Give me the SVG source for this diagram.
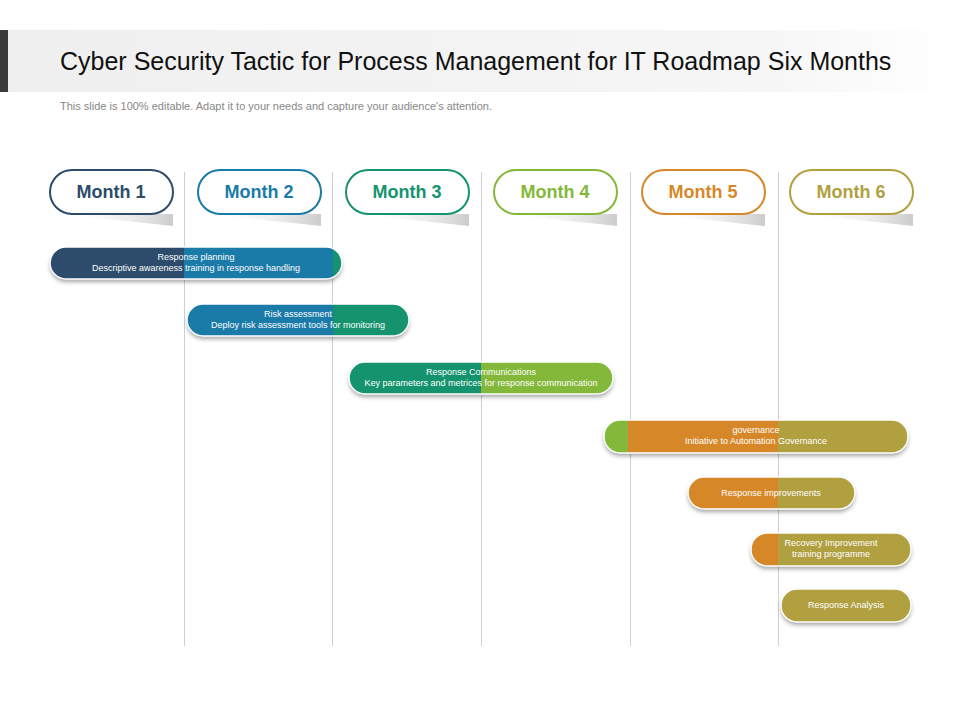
<svg xmlns="http://www.w3.org/2000/svg" width="960" height="720" viewBox="0 0 960 720">
<defs>
<linearGradient id="hg" x1="0" x2="1"><stop offset="0" stop-color="#efefef"/><stop offset="0.8" stop-color="#f6f6f6"/><stop offset="1" stop-color="#ffffff"/></linearGradient>
<linearGradient id="sh" x1="0" x2="1"><stop offset="0" stop-color="#fff" stop-opacity="0"/><stop offset="1" stop-color="#ccc"/></linearGradient>
<filter id="ds" x="-10%" y="-30%" width="120%" height="170%"><feDropShadow dx="0" dy="3" stdDeviation="2" flood-color="#000" flood-opacity="0.35"/></filter>
<clipPath id="c1"><rect x="50" y="247" width="292" height="32" rx="16"/></clipPath>
<clipPath id="c2"><rect x="187" y="304" width="222" height="32" rx="16"/></clipPath>
<clipPath id="c3"><rect x="349" y="362" width="264" height="32" rx="16"/></clipPath>
<clipPath id="c4"><rect x="604" y="420" width="304" height="33" rx="16"/></clipPath>
<clipPath id="c5"><rect x="688" y="477" width="167" height="32" rx="16"/></clipPath>
<clipPath id="c6"><rect x="751" y="533" width="160" height="33" rx="16"/></clipPath>
<clipPath id="c7"><rect x="781" y="589" width="130" height="33" rx="16"/></clipPath>
</defs>
<style>
.pill{fill:#fff;stroke-width:2}
.mt{font-family:"Liberation Sans",Arial,sans-serif;font-size:18px;font-weight:bold;text-anchor:middle}
.bt{font-family:"Liberation Sans",Arial,sans-serif;font-size:9px;fill:#fff;text-anchor:middle}
.vl{stroke:#d0d0d0;stroke-width:1}
.bo{fill:none;stroke:#fff;stroke-width:1.5}
</style>
<rect width="960" height="720" fill="#fff"/>
<g id="header">
<rect x="8" y="30" width="942" height="62" fill="url(#hg)"/>
<rect x="0" y="30" width="8" height="62" fill="#3a3a3a"/>
<text x="60" y="70" font-family="Liberation Sans,Arial,sans-serif" font-size="25" fill="#111">Cyber Security Tactic for Process Management for IT Roadmap Six Months</text>
<text x="60" y="110" font-family="Liberation Sans,Arial,sans-serif" font-size="11" fill="#888">This slide is 100% editable. Adapt it to your needs and capture your audience's attention.</text>
</g>
<g id="gridlines">
<line class="vl" x1="184.5" y1="172" x2="184.5" y2="646"/>
<line class="vl" x1="332.5" y1="172" x2="332.5" y2="646"/>
<line class="vl" x1="481.5" y1="172" x2="481.5" y2="646"/>
<line class="vl" x1="630.5" y1="172" x2="630.5" y2="646"/>
<line class="vl" x1="778.5" y1="172" x2="778.5" y2="646"/>
</g>
<g id="months">
<g id="m1"><polygon points="60,214 173,214 173,226" fill="url(#sh)"/><rect class="pill" x="50" y="170" width="123" height="44" rx="22" stroke="#2d4b6b"/><text class="mt" x="111" y="198" fill="#2d4b6b">Month 1</text></g>
<g id="m2"><polygon points="208,214 321,214 321,226" fill="url(#sh)"/><rect class="pill" x="198" y="170" width="123" height="44" rx="22" stroke="#1a7aa8"/><text class="mt" x="259" y="198" fill="#1a7aa8">Month 2</text></g>
<g id="m3"><polygon points="356,214 469,214 469,226" fill="url(#sh)"/><rect class="pill" x="346" y="170" width="123" height="44" rx="22" stroke="#15936e"/><text class="mt" x="407" y="198" fill="#15936e">Month 3</text></g>
<g id="m4"><polygon points="504,214 617,214 617,226" fill="url(#sh)"/><rect class="pill" x="494" y="170" width="123" height="44" rx="22" stroke="#84b83a"/><text class="mt" x="555" y="198" fill="#84b83a">Month 4</text></g>
<g id="m5"><polygon points="652,214 765,214 765,226" fill="url(#sh)"/><rect class="pill" x="642" y="170" width="123" height="44" rx="22" stroke="#d68828"/><text class="mt" x="703" y="198" fill="#d68828">Month 5</text></g>
<g id="m6"><polygon points="800,214 913,214 913,226" fill="url(#sh)"/><rect class="pill" x="790" y="170" width="123" height="44" rx="22" stroke="#b0a040"/><text class="mt" x="851" y="198" fill="#b0a040">Month 6</text></g>
</g>
<g id="bars">
<g id="b1"><rect x="50" y="247" width="292" height="32" rx="16" fill="#2d4b6b" filter="url(#ds)"/><g clip-path="url(#c1)"><rect x="50" y="247" width="134" height="32" fill="#2d4b6b"/><rect x="184" y="247" width="149" height="32" fill="#1a7aa8"/><rect x="333" y="247" width="20" height="32" fill="#15936e"/></g><rect class="bo" x="50" y="247" width="292" height="32" rx="16"/><text class="bt" x="196" y="260">Response planning</text><text class="bt" x="196" y="271">Descriptive awareness training in response handling</text></g>
<g id="b2"><rect x="187" y="304" width="222" height="32" rx="16" fill="#1a7aa8" filter="url(#ds)"/><g clip-path="url(#c2)"><rect x="187" y="304" width="146" height="32" fill="#1a7aa8"/><rect x="333" y="304" width="80" height="32" fill="#15936e"/></g><rect class="bo" x="187" y="304" width="222" height="32" rx="16"/><text class="bt" x="298" y="317">Risk assessment</text><text class="bt" x="298" y="328">Deploy risk assessment tools for monitoring</text></g>
<g id="b3"><rect x="349" y="362" width="264" height="32" rx="16" fill="#15936e" filter="url(#ds)"/><g clip-path="url(#c3)"><rect x="349" y="362" width="132" height="32" fill="#15936e"/><rect x="481" y="362" width="135" height="32" fill="#84b83a"/></g><rect class="bo" x="349" y="362" width="264" height="32" rx="16"/><text class="bt" x="481" y="375">Response Communications</text><text class="bt" x="481" y="386">Key parameters and metrices for response communication</text></g>
<g id="b4"><rect x="604" y="420" width="304" height="33" rx="16" fill="#d68828" filter="url(#ds)"/><g clip-path="url(#c4)"><rect x="604" y="420" width="24" height="33" fill="#84b83a"/><rect x="628" y="420" width="150" height="33" fill="#d68828"/><rect x="778" y="420" width="133" height="33" fill="#b0a040"/></g><rect class="bo" x="604" y="420" width="304" height="33" rx="16"/><text class="bt" x="756" y="433">governance</text><text class="bt" x="756" y="444">Initiative to Automation Governance</text></g>
<g id="b5"><rect x="688" y="477" width="167" height="32" rx="16" fill="#d68828" filter="url(#ds)"/><g clip-path="url(#c5)"><rect x="688" y="477" width="90" height="32" fill="#d68828"/><rect x="778" y="477" width="80" height="32" fill="#b0a040"/></g><rect class="bo" x="688" y="477" width="167" height="32" rx="16"/><text class="bt" x="771" y="496">Response improvements</text></g>
<g id="b6"><rect x="751" y="533" width="160" height="33" rx="16" fill="#b0a040" filter="url(#ds)"/><g clip-path="url(#c6)"><rect x="751" y="533" width="27" height="33" fill="#d68828"/><rect x="778" y="533" width="136" height="33" fill="#b0a040"/></g><rect class="bo" x="751" y="533" width="160" height="33" rx="16"/><text class="bt" x="831" y="546">Recovery Improvement</text><text class="bt" x="831" y="557">training programme</text></g>
<g id="b7"><rect x="781" y="589" width="130" height="33" rx="16" fill="#b0a040" filter="url(#ds)"/><rect class="bo" x="781" y="589" width="130" height="33" rx="16"/><text class="bt" x="846" y="608">Response Analysis</text></g>
</g>
</svg>
